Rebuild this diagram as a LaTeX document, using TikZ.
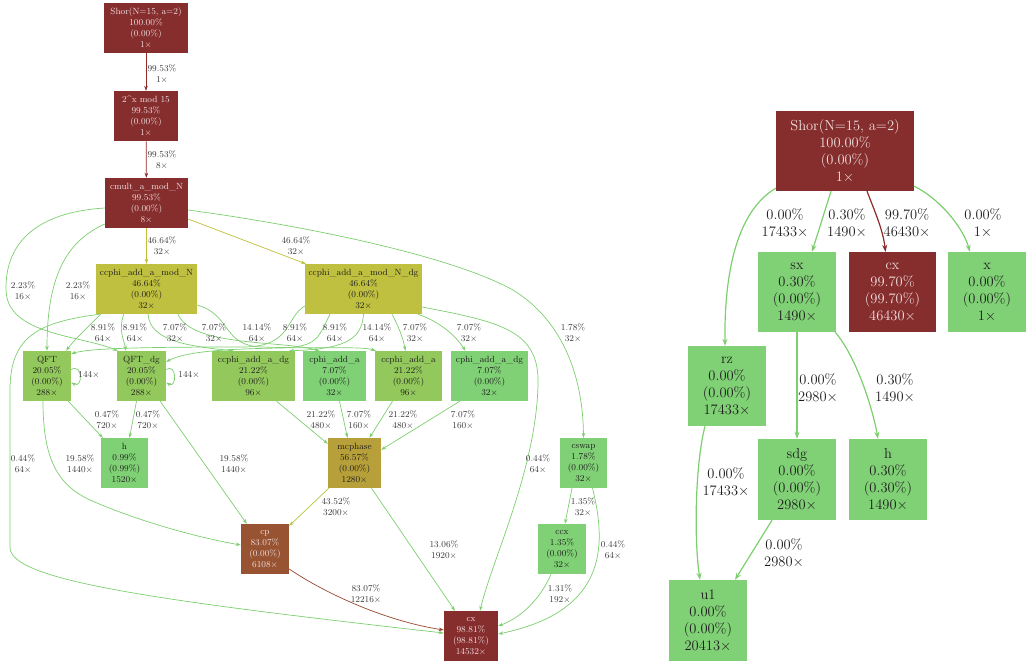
\documentclass[tikz,border=0pt]{standalone}
\usepackage{tikz}
\usetikzlibrary{arrows.meta,positioning}

\definecolor{hotred}{RGB}{134,45,45}
\definecolor{olivebox}{RGB}{192,192,64}
\definecolor{mustard}{RGB}{183,160,58}
\definecolor{rust}{RGB}{151,83,50}
\definecolor{midgreen}{RGB}{147,201,92}
\definecolor{lightgreen}{RGB}{128,208,117}
\definecolor{lighttext}{RGB}{240,224,224}
\definecolor{darktext}{RGB}{30,30,30}
\definecolor{labeltext}{RGB}{55,55,55}
\definecolor{rededge}{RGB}{140,42,42}
\definecolor{oliveedge}{RGB}{190,190,55}
\definecolor{greenedge}{RGB}{125,206,110}
\definecolor{rustedge}{RGB}{150,68,45}
\definecolor{limeedge}{RGB}{178,196,62}

\newcommand{\smallfont}{\fontsize{9}{11}\selectfont}
\newcommand{\bigfont}{\fontsize{14.5}{17}\selectfont}

\begin{document}
\begin{tikzpicture}[
    x=1pt, y=-1pt,
    box/.style={rectangle, inner sep=0pt, align=center, font=\smallfont, text=darktext, minimum height=50pt},
    hot/.style={box, fill=hotred, text=lighttext},
    warm/.style={box, fill=olivebox},
    mid/.style={box, fill=midgreen},
    cool/.style={box, fill=lightgreen},
    bigbox/.style={font=\bigfont, minimum height=80pt, minimum width=78pt},
    elabel/.style={align=center, font=\smallfont, text=labeltext, inner sep=0pt},
    biglabel/.style={elabel, font=\bigfont, text=darktext},
    edge/.style={-{Stealth[length=5pt,width=3.5pt]}, line width=0.7pt, draw=greenedge},
    bigedge/.style={-{Stealth[length=7pt,width=5pt]}, line width=1.2pt, draw=greenedge}
]
\useasboundingbox (0,0) rectangle (1026,662);

% call graph on the left
\node[hot, minimum width=84pt] (shor) at (146,28) {Shor(N=15, a=2)\\100.00\%\\(0.00\%)\\1$\times$};
\node[hot, minimum width=64pt] (pow) at (146,116) {2\^{}x mod 15\\99.53\%\\(0.00\%)\\1$\times$};
\node[hot, minimum width=83pt] (cmult) at (146.5,203) {cmult\_a\_mod\_N\\99.53\%\\(0.00\%)\\8$\times$};
\node[warm, minimum width=101pt] (ccphiN) at (146.5,289) {ccphi\_add\_a\_mod\_N\\46.64\%\\(0.00\%)\\32$\times$};
\node[warm, minimum width=117pt] (ccphiNdg) at (363.5,289) {ccphi\_add\_a\_mod\_N\_dg\\46.64\%\\(0.00\%)\\32$\times$};
\node[mid, minimum width=48pt] (qft) at (47,376) {QFT\\20.05\%\\(0.00\%)\\288$\times$};
\node[mid, minimum width=49pt] (qftdg) at (141.5,376) {QFT\_dg\\20.05\%\\(0.00\%)\\288$\times$};
\node[mid, minimum width=83pt] (ccphidg) at (253.5,376) {ccphi\_add\_a\_dg\\21.22\%\\(0.00\%)\\96$\times$};
\node[cool, minimum width=63pt] (cphi) at (334.5,376) {cphi\_add\_a\\7.07\%\\(0.00\%)\\32$\times$};
\node[mid, minimum width=67pt] (ccphi) at (408.5,376) {ccphi\_add\_a\\21.22\%\\(0.00\%)\\96$\times$};
\node[cool, minimum width=77pt] (cphidg) at (489.5,376) {cphi\_add\_a\_dg\\7.07\%\\(0.00\%)\\32$\times$};
\node[cool, minimum width=47pt] (h) at (124.5,463) {h\\0.99\%\\(0.99\%)\\1520$\times$};
\node[box, fill=mustard, minimum width=53pt] (mcphase) at (354.5,463) {mcphase\\56.57\%\\(0.00\%)\\1280$\times$};
\node[cool, minimum width=47pt] (cswap) at (583.5,463) {cswap\\1.78\%\\(0.00\%)\\32$\times$};
\node[box, fill=rust, text=lighttext, minimum width=48pt] (cp) at (265,549) {cp\\83.07\%\\(0.00\%)\\6108$\times$};
\node[cool, minimum width=48pt] (ccx) at (562,549) {ccx\\1.35\%\\(0.00\%)\\32$\times$};
\node[hot, minimum width=54pt] (cx) at (471,636) {cx\\98.81\%\\(98.81\%)\\14532$\times$};

% edges of the left graph
\draw[edge, draw=rededge] (shor) -- (pow);
\draw[edge, draw=rededge] (pow) -- (cmult);
\draw[edge, draw=oliveedge] (cmult) -- (ccphiN);
\draw[edge, draw=oliveedge] ([yshift=-16pt]cmult.east) -- ([xshift=1pt]ccphiNdg.north west);
\draw[edge] ([yshift=-21pt]cmult.west) .. controls (70,240) and (47,270) .. (qft.north);
\draw[edge] ([yshift=-5pt]cmult.west) .. controls (40,212) and (5,240) .. (6,290)
    .. controls (7,335) and (80,335) .. ([xshift=1pt]qftdg.north west);
\draw[edge] ([yshift=-7pt]cmult.east) .. controls (300,225) and (450,255) .. (513,290)
    .. controls (565,322) and (583,380) .. (cswap.north);

\draw[edge] ([xshift=4pt]ccphiN.south west) .. controls (40,322) and (10,335) .. (10,390)
    -- (10,548) .. controls (12,580) and (150,600) .. ([yshift=3pt]cx.west);
\draw[edge] ([xshift=5pt]ccphiN.south west) .. controls (90,325) and (74,340) .. ([xshift=-5pt]qft.north east);
\draw[edge] ([xshift=28pt]ccphiN.south west) .. controls (118,330) and (124,340) .. ([xshift=-15.5pt]qftdg.north);
\draw[edge] ([xshift=1.5pt]ccphiN.south) .. controls (150,340) and (185,346) .. ([xshift=-20pt]ccphidg.north);
\draw[edge] ([xshift=31.5pt]ccphiN.south) .. controls (192,347) and (280,340) .. ([xshift=-15pt]cphi.north);
\draw[edge] ([yshift=-16pt]ccphiN.east) .. controls (232,315) and (222,346) .. (262,347)
    .. controls (320,349) and (362,346) .. ([xshift=1pt]ccphi.north west);

\draw[edge] ([yshift=-17pt]ccphiNdg.west) .. controls (285,318) and (292,346) .. (245,347)
    .. controls (150,347) and (90,348) .. ([yshift=-3pt]qft.north east);
\draw[edge] ([xshift=-33.5pt]ccphiNdg.south) .. controls (318,338) and (318,347) .. (280,348)
    .. controls (220,349) and (185,352) .. ([yshift=-11pt]qftdg.north east);
\draw[edge] (ccphiNdg.south) .. controls (362,342) and (340,349) .. ([xshift=-6pt]ccphidg.north east);
\draw[edge] ([xshift=28.5pt]ccphiNdg.south) .. controls (398,325) and (403,338) .. ([xshift=-3pt]ccphi.north);
\draw[edge] ([xshift=54.5pt]ccphiNdg.south) .. controls (440,322) and (455,335) .. ([xshift=-24pt]cphidg.north);
\draw[edge] ([yshift=-18pt]ccphiNdg.east) .. controls (500,322) and (540,330) .. (538,385)
    .. controls (536,470) and (492,560) .. ([xshift=9pt]cx.north);

\draw[edge] (qft.15) .. controls (83,363) and (83,389) .. (qft.-15);
\draw[edge] (qftdg.15) .. controls (177,363) and (177,389) .. (qftdg.-15);
\draw[edge] ([xshift=-3pt]qft.south east) -- ([xshift=2pt]h.north west);
\draw[edge] ([xshift=-5pt]qftdg.south) -- ([xshift=5pt]h.north);
\draw[edge] ([xshift=-4pt]qft.south) .. controls (43,460) and (58,485) .. (90,500)
    .. controls (140,522) and (200,538) .. ([yshift=4pt]cp.west);
\draw[edge] ([xshift=-6pt]qftdg.south east) -- ([xshift=6pt]cp.north west);

\draw[edge] ([xshift=23pt]ccphidg.south) -- ([yshift=-6pt]mcphase.north west);
\draw[edge] ([xshift=5pt]cphi.south) -- ([xshift=-7pt]mcphase.north);
\draw[edge] ([xshift=-16pt]ccphi.south) -- ([xshift=15pt]mcphase.north);
\draw[edge] ([xshift=9pt]cphidg.south west) -- ([yshift=-12pt]mcphase.north east);
\draw[edge, draw=limeedge] ([xshift=1pt]mcphase.south west) -- ([yshift=-2pt]cp.north east);
\draw[edge] ([xshift=17pt]mcphase.south) -- ([xshift=-16pt]cx.north);
\draw[edge, draw=rustedge] ([yshift=-20pt]cp.east) .. controls (320,590) and (380,620) .. ([yshift=6pt]cx.west);

\draw[edge] ([xshift=-11.5pt]cswap.south) -- ([xshift=3pt]ccx.north);
\draw[edge] ([xshift=9pt]cswap.south) .. controls (608,550) and (604,612) .. ([yshift=2pt]cx.east);
\draw[edge] ([xshift=-11pt]ccx.south) .. controls (540,600) and (520,618) .. ([yshift=10pt]cx.east);

% edge labels of the left graph
\node[elabel] (l-shor-pow) at (162,74) {99.53\%\\1$\times$};
\node[elabel] (l-pow-cmult) at (162,160) {99.53\%\\8$\times$};
\node[elabel] (l-cmult-N) at (162,246) {46.64\%\\32$\times$};
\node[elabel] (l-cmult-Ndg) at (296,246) {46.64\%\\32$\times$};
\node[elabel] (l-cmult-qftdg) at (23,291) {2.23\%\\16$\times$};
\node[elabel] (l-cmult-qft) at (78,291) {2.23\%\\16$\times$};
\node[elabel] (l-cmult-cswap) at (573,333) {1.78\%\\32$\times$};
\node[elabel] (l-N-qft) at (103,333) {8.91\%\\64$\times$};
\node[elabel] (l-N-qftdg) at (135,333) {8.91\%\\64$\times$};
\node[elabel] (l-N-ccphidg) at (175,333) {7.07\%\\32$\times$};
\node[elabel] (l-N-cphi) at (214,333) {7.07\%\\32$\times$};
\node[elabel] (l-N-ccphi) at (257,333) {14.14\%\\64$\times$};
\node[elabel] (l-Ndg-qft) at (295,333) {8.91\%\\64$\times$};
\node[elabel] (l-Ndg-qftdg) at (335,333) {8.91\%\\64$\times$};
\node[elabel] (l-Ndg-ccphidg) at (377,333) {14.14\%\\64$\times$};
\node[elabel] (l-Ndg-ccphi) at (415,333) {7.07\%\\32$\times$};
\node[elabel] (l-Ndg-cphidg) at (469,333) {7.07\%\\32$\times$};
\node[elabel] (l-qft-loop) at (89,375) {144$\times$};
\node[elabel] (l-qftdg-loop) at (189,375) {144$\times$};
\node[elabel] (l-qft-h) at (107,420) {0.47\%\\720$\times$};
\node[elabel] (l-qftdg-h) at (148,420) {0.47\%\\720$\times$};
\node[elabel] (l-ccphidg-mc) at (321,420) {21.22\%\\480$\times$};
\node[elabel] (l-cphi-mc) at (359,420) {7.07\%\\160$\times$};
\node[elabel] (l-ccphi-mc) at (403,420) {21.22\%\\480$\times$};
\node[elabel] (l-cphidg-mc) at (463,420) {7.07\%\\160$\times$};
\node[elabel] (l-N-cx) at (23,464) {0.44\%\\64$\times$};
\node[elabel] (l-qft-cp) at (80,464) {19.58\%\\1440$\times$};
\node[elabel] (l-qftdg-cp) at (234,464) {19.58\%\\1440$\times$};
\node[elabel] (l-Ndg-cx) at (538,464) {0.44\%\\64$\times$};
\node[elabel] (l-mc-cp) at (336,507) {43.52\%\\3200$\times$};
\node[elabel] (l-cswap-ccx) at (583,507) {1.35\%\\32$\times$};
\node[elabel] (l-mc-cx) at (444,550) {13.06\%\\1920$\times$};
\node[elabel] (l-cswap-cx) at (613,550) {0.44\%\\64$\times$};
\node[elabel] (l-cp-cx) at (366,594) {83.07\%\\12216$\times$};
\node[elabel] (l-ccx-cx) at (560,594) {1.31\%\\192$\times$};

% gate totals on the right
\node[hot, bigbox, minimum width=138pt] (rshor) at (845,151) {Shor(N=15, a=2)\\100.00\%\\(0.00\%)\\1$\times$};
\node[cool, bigbox] (sx) at (797,292) {sx\\0.30\%\\(0.00\%)\\1490$\times$};
\node[hot, bigbox, minimum width=87pt] (rcx) at (892.5,292) {cx\\99.70\%\\(99.70\%)\\46430$\times$};
\node[cool, bigbox] (xgate) at (987,292) {x\\0.00\%\\(0.00\%)\\1$\times$};
\node[cool, bigbox] (rz) at (727,386) {rz\\0.00\%\\(0.00\%)\\17433$\times$};
\node[cool, bigbox, minimum height=81pt] (sdg) at (797,479.5) {sdg\\0.00\%\\(0.00\%)\\2980$\times$};
\node[cool, bigbox, minimum height=81pt] (rh) at (888,479.5) {h\\0.30\%\\(0.30\%)\\1490$\times$};
\node[cool, bigbox, minimum height=81pt] (u1) at (708,620.5) {u1\\0.00\%\\(0.00\%)\\20413$\times$};

\draw[bigedge] ([yshift=3pt]rshor.south west) .. controls (742,208) and (724,260) .. ([xshift=-2pt]rz.north);
\draw[bigedge] ([xshift=-14pt]rshor.south) -- ([xshift=15pt]sx.north);
\draw[bigedge, draw=rededge] ([xshift=22pt]rshor.south) .. controls (875,212) and (883,230) .. ([xshift=-7pt]rcx.north);
\draw[bigedge] ([yshift=5pt]rshor.south east) .. controls (938,198) and (962,225) .. ([xshift=-17pt]xgate.north);
\draw[bigedge] (sx) -- (sdg);
\draw[bigedge] ([xshift=-1pt]sx.south east) .. controls (855,355) and (872,405) .. ([xshift=-10pt]rh.north);
\draw[bigedge] ([xshift=-22pt]rz.south) .. controls (695,465) and (694,540) .. ([xshift=-8pt]u1.north);
\draw[bigedge] ([xshift=-25pt]sdg.south) -- ([xshift=27pt]u1.north);

\node[biglabel] (r-shor-rz) at (785,223) {0.00\%\\17433$\times$};
\node[biglabel] (r-shor-sx) at (847,223) {0.30\%\\1490$\times$};
\node[biglabel] (r-shor-cx) at (907,223) {99.70\%\\46430$\times$};
\node[biglabel] (r-shor-x) at (983,223) {0.00\%\\1$\times$};
\node[biglabel] (r-sx-sdg) at (818,388) {0.00\%\\2980$\times$};
\node[biglabel] (r-sx-h) at (895,388) {0.30\%\\1490$\times$};
\node[biglabel] (r-rz-u1) at (726,482) {0.00\%\\17433$\times$};
\node[biglabel] (r-sdg-u1) at (784,553) {0.00\%\\2980$\times$};
\end{tikzpicture}
\end{document}
